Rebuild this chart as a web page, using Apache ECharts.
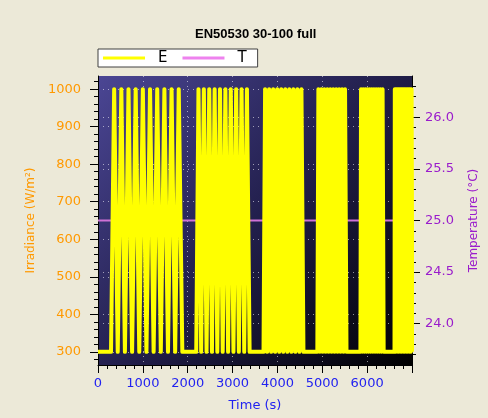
<!DOCTYPE html>
<html>
<head>
<meta charset="utf-8">
<script src="https://cdn.jsdelivr.net/npm/echarts@6/dist/echarts.min.js"></script>
<style>
  html, body { margin: 0; padding: 0; background: #ece9d8; }
  #chart { width: 488px; height: 418px; }
</style>
</head>
<body>
<div id="chart"></div>
<script>
// slope blocks of the 30-100 % sequence
var blockStart = [290, 2190, 3690, 4890, 5850, 6610]; // s, first rise of each block
var rampSec    = [70, 50, 35, 23, 14, 7];              // s, 300 -> 1000 W/m2
var dwellSec   = [10, 10, 10, 10, 10, 10];             // s, hold at top / bottom
var cycleCount = [10, 10, 10, 10, 11, 12];
var eLow  = 300;
var eHigh = 1000;
var timeEnd = 7000;

// temperature, flat at about 25 C
var tTime  = [0, 7000];
var tValue = [25.0, 25.0];

var irrTicks  = [300, 400, 500, 600, 700, 800, 900, 1000];
var tempTicks = [24.0, 24.5, 25.0, 25.5, 26.0];

// E as a list of [time, irradiance] break points
var eData = [[0, eLow]];
for (var b = 0; b < blockStart.length; b++) {
  var t = blockStart[b];
  for (var c = 0; c < cycleCount[b]; c++) {
    eData.push([t, eLow]);
    t += rampSec[b];
    eData.push([t, eHigh]);
    t += dwellSec[b];
    eData.push([t, eHigh]);
    t += rampSec[b];
    eData.push([t, eLow]);
    t += dwellSec[b];
  }
}
eData.push([timeEnd, eLow]);
var tData = tTime.map(function (x, i) { return [x, tValue[i]]; });

// minor tick positions
var irrMinor = [];
for (var v = 280; v <= 1020; v += 20) irrMinor.push(v);
var tempMinor = [];
for (var k = 237; k <= 263; k++) tempMinor.push(k / 10);

var FONT = 'DejaVu Sans';
var ORANGE = '#ff9900', PURPLE = '#9a1ccc', BLUE = '#2222f0';
var dots = { color: 'rgba(255,255,255,0.55)', width: 1, type: [1, 4] };
var plain = function (v) { return String(v); };

var myChart = echarts.init(document.getElementById('chart'));
var option = {
  animation: false,
  backgroundColor: '#ece9d8',
  title: {
    text: 'EN50530 30-100 full',
    left: 190,
    top: 23,
    textStyle: { fontSize: 13, fontWeight: 'bold', color: '#000', fontFamily: 'Liberation Sans' }
  },
  legend: {
    left: 98,
    top: 49,
    backgroundColor: '#fff',
    borderColor: '#404040',
    borderWidth: 1,
    borderRadius: 0,
    padding: [0, 11, 0, 5],
    itemWidth: 42,
    itemHeight: 3,
    itemGap: 15,
    icon: 'rect',
    textStyle: { fontSize: 15, color: '#000', fontFamily: FONT, padding: [0, 0, 0, 8], lineHeight: 18 },
    data: [
      { name: 'E', itemStyle: { color: '#ffff00' } },
      { name: 'T', itemStyle: { color: '#ee82ee' } }
    ]
  },
  grid: {
    left: 98, right: 76, top: 76, bottom: 53,
    show: true,
    borderWidth: 0,
    backgroundColor: {
      type: 'linear', x: 0, y: 0, x2: 1, y2: 1,
      colorStops: [
        { offset: 0, color: '#4b4694' },
        { offset: 0.5, color: '#221f4c' },
        { offset: 1, color: '#000000' }
      ]
    }
  },
  xAxis: [{
    type: 'value',
    min: 0, max: timeEnd, interval: 1000,
    name: 'Time (s)',
    nameLocation: 'middle',
    nameGap: 34,
    nameTextStyle: { color: BLUE, fontSize: 13, fontFamily: FONT },
    axisLine: { show: true, onZero: false, lineStyle: { color: '#000' } },
    axisTick: { length: 8, lineStyle: { color: '#000' } },
    minorTick: { show: true, splitNumber: 5, length: 4, lineStyle: { color: '#000' } },
    axisLabel: { color: BLUE, fontSize: 13, fontFamily: FONT, margin: 12, showMaxLabel: false, formatter: plain },
    splitLine: { show: true, lineStyle: dots }
  }],
  yAxis: [{
    type: 'value',
    position: 'left',
    min: 265, max: 1035,
    name: 'Irradiance (W/m²)',
    nameLocation: 'middle',
    nameRotate: 90,
    nameGap: 59,
    nameTextStyle: { color: ORANGE, fontSize: 12, fontFamily: FONT },
    axisLine: { show: true, lineStyle: { color: '#000' } },
    axisTick: { show: true, length: 8, customValues: irrTicks, lineStyle: { color: '#000' } },
    axisLabel: { color: ORANGE, fontSize: 13, fontFamily: FONT, margin: 17, customValues: irrTicks, formatter: plain },
    splitLine: { show: true, lineStyle: dots }
  }, {
    type: 'value',
    position: 'right',
    min: 23.6, max: 26.4,
    name: 'Temperature (°C)',
    nameLocation: 'middle',
    nameRotate: 90,
    nameGap: 56,
    nameTextStyle: { color: PURPLE, fontSize: 12, fontFamily: FONT },
    axisLine: { show: true, lineStyle: { color: '#000' } },
    axisTick: { show: true, length: 8, customValues: tempTicks, lineStyle: { color: '#000' } },
    axisLabel: {
      color: PURPLE, fontSize: 13, fontFamily: FONT, margin: 13, customValues: tempTicks,
      formatter: function (v) { return v.toFixed(1); }
    },
    splitLine: { show: true, lineStyle: dots }
  }, {
    // minor ticks, left
    type: 'value', position: 'left', min: 265, max: 1035,
    axisLine: { show: false },
    axisTick: { show: true, length: 4, customValues: irrMinor, lineStyle: { color: '#000' } },
    axisLabel: { show: false },
    splitLine: { show: false }
  }, {
    // minor ticks, right
    type: 'value', position: 'right', min: 23.6, max: 26.4,
    axisLine: { show: false },
    axisTick: { show: true, length: 4, customValues: tempMinor, lineStyle: { color: '#000' } },
    axisLabel: { show: false },
    splitLine: { show: false }
  }],
  series: [{
    name: 'T',
    type: 'line',
    yAxisIndex: 1,
    data: tData,
    showSymbol: false,
    z: 2,
    itemStyle: { color: '#ee82ee' },
    lineStyle: { color: '#cf72d6', width: 2 }
  }, {
    name: 'E',
    type: 'line',
    yAxisIndex: 0,
    data: eData,
    showSymbol: false,
    z: 3,
    itemStyle: { color: '#ffff00' },
    lineStyle: { color: '#ffff00', width: 4, join: 'round' }
  }]
};
myChart.setOption(option);
</script>
</body>
</html>
